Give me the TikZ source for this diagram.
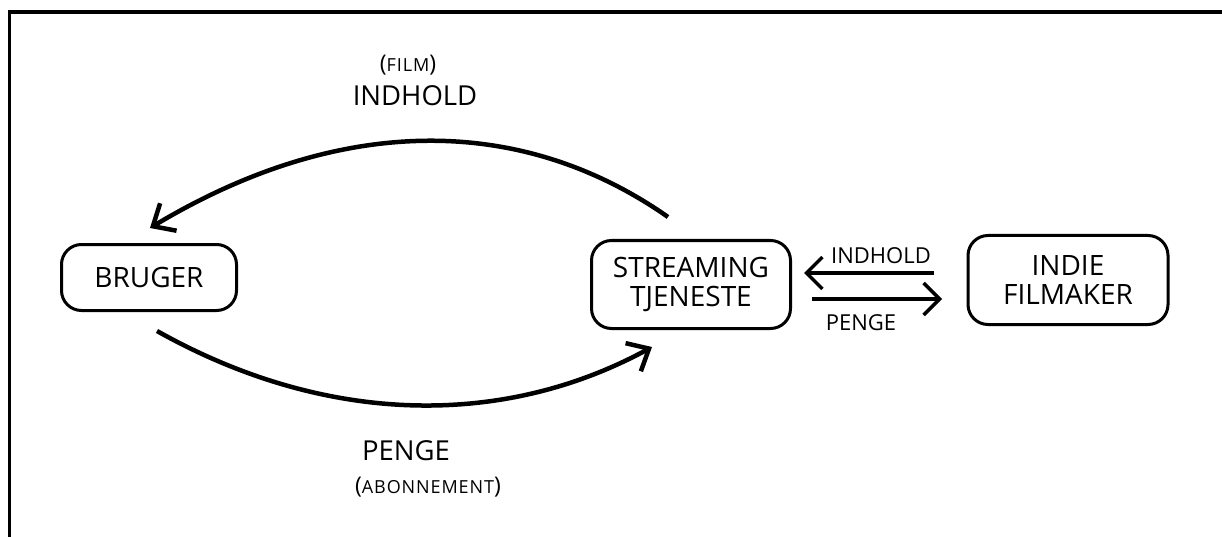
\documentclass[tikz,border=0pt]{standalone}
\usepackage{fontspec}
\setmainfont{Open Sans}
\newfontfamily\scfont[LetterSpace=5]{Open Sans}
\usetikzlibrary{arrows.meta}
\newcommand{\parsc}[1]{{\fontsize{23}{24}\selectfont(}{\scfont\fontsize{18}{22}\selectfont #1}{\fontsize{23}{24}\selectfont)}}
\begin{document}
\begin{tikzpicture}[x=1pt,y=-1pt,
  box/.style={draw, line width=3pt, rounded corners=20pt, align=center,
    font=\fontsize{28}{28.5}\selectfont, inner sep=0pt},
  bigarrow/.style={line width=4.5pt, -{Straight Barb[length=18pt,width=32pt]}},
  smallarrow/.style={line width=3.5pt, -{Straight Barb[length=16pt,width=32pt]}},
  lbl/.style={font=\fontsize{27.5}{30}\selectfont, inner sep=0pt, anchor=base},
  sclbl/.style={inner sep=0pt, anchor=base},
  slbl/.style={font=\fontsize{22}{24}\selectfont, inner sep=0pt, anchor=base}]
\useasboundingbox (0,0) rectangle (1222,537);
\draw[line width=3.5pt] (9.5,537) -- (9.5,12) -- (1222,12);

\node[box, minimum width=175pt, minimum height=66pt] (bruger) at (149,277.5) {BRUGER};
\node[box, minimum width=199pt, minimum height=88pt] (stream) at (691,284.5) {STREAMING\\TJENESTE};
\node[box, minimum width=200pt, minimum height=89pt] (indie) at (1068,280) {INDIE\\FILMAKER};

\coordinate (t0) at (668,217);
\coordinate (t1) at (150,228);
\draw[bigarrow] (t0) .. controls (521,114) and (340,114) .. (t1);

\coordinate (b0) at (157,331);
\coordinate (b1) at (652,347);
\draw[bigarrow] (b0) .. controls (328,427) and (505,427) .. (b1);

\coordinate (s0) at (934,273);
\coordinate (s1) at (804,273);
\draw[smallarrow] (s0) -- (s1);
\coordinate (p0) at (812,299);
\coordinate (p1) at (942,299);
\draw[smallarrow] (p0) -- (p1);

\node[sclbl] (film) at (408,72) {\parsc{FILM}};
\node[lbl] (indhold) at (415,106) {INDHOLD};
\node[lbl] (penge) at (406,460) {PENGE};
\node[sclbl] (abon) at (428,493) {\parsc{ABONNEMENT}};
\node[slbl] (sindhold) at (881,263) {INDHOLD};
\node[slbl] (spenge) at (861,330) {PENGE};
\end{tikzpicture}
\end{document}
